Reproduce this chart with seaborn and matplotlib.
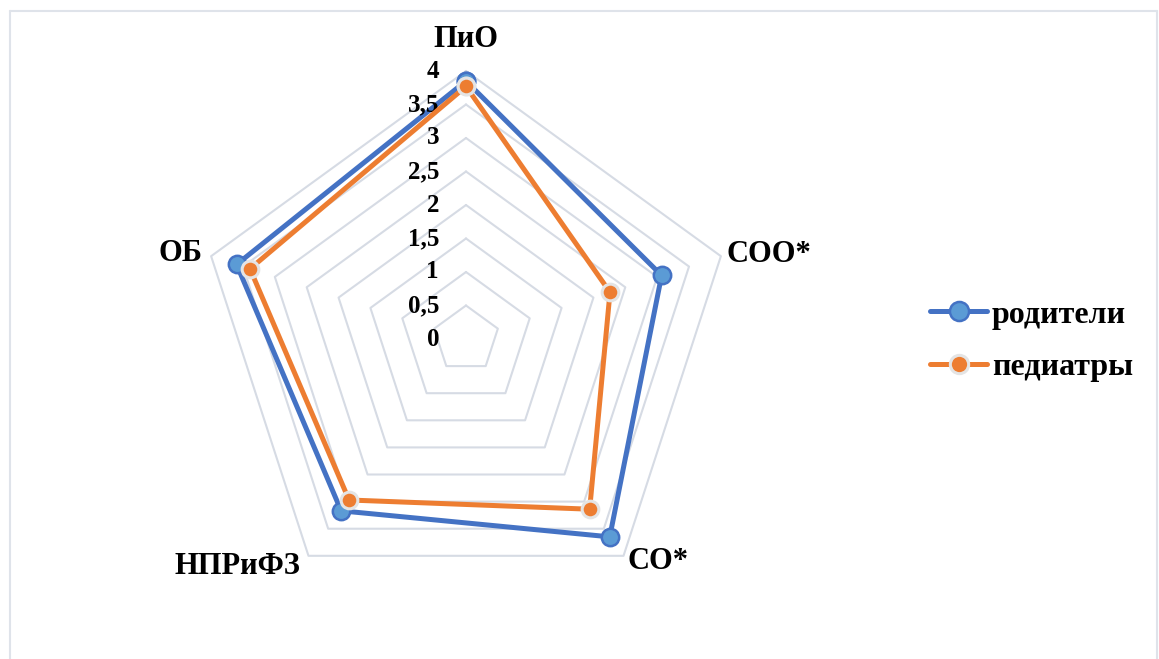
import numpy as np
import matplotlib
matplotlib.use("Agg")
import matplotlib.pyplot as plt
import matplotlib.transforms as mtransforms
from matplotlib.lines import Line2D
import seaborn as sns

categories = ["ПиО", "СОО*", "СО*", "НПРиФЗ", "ОБ"]
parents = [3.85, 3.07, 3.65, 3.17, 3.60]
pediatricians = [3.77, 2.26, 3.14, 2.97, 3.39]
series_names = ["родители", "педиатры"]
r_ticks = [0, 0.5, 1, 1.5, 2, 2.5, 3, 3.5, 4]
r_tick_labels = ["0", "0,5", "1", "1,5", "2", "2,5", "3", "3,5", "4"]

sns.set_style("white")
plt.rcParams["font.family"] = ["Liberation Serif", "DejaVu Serif"]
plt.rcParams["font.weight"] = "bold"
plt.rcParams["text.color"] = "black"

W, H = 1159, 659
fig = plt.figure(figsize=(W / 100, H / 100), dpi=100)
cx, cy, R = 466, 339, 268
ax = fig.add_axes([(cx - R) / W, (H - cy - R) / H, 2 * R / W, 2 * R / H],
                  projection="polar")
ax.set_theta_zero_location("N")
ax.set_theta_direction(-1)
ax.set_ylim(0, 4)
ax.grid(False)
ax.spines["polar"].set_visible(False)
ax.set_xticks([])
ax.set_yticks([])
ax.patch.set_alpha(0)

n = len(categories)
angles = np.linspace(0, 2 * np.pi, n, endpoint=False)
closed = np.concatenate([angles, angles[:1]])

grid_color = "#D6DBE4"
for v in r_ticks[1:]:
    ax.plot(closed, [v] * (n + 1), color=grid_color, lw=1.5, zorder=1,
            clip_on=False)

def close(vals):
    return list(vals) + [vals[0]]

ax.plot(closed, close(parents), color="#4472C4", lw=3.6, zorder=3,
        marker="o", markersize=12.5, markerfacecolor="#5B9BD5",
        markeredgecolor="#4472C4", markeredgewidth=1.8,
        label=series_names[0], clip_on=False)
ax.plot(closed, close(pediatricians), color="#ED7D31", lw=3.6, zorder=4,
        marker="o", markersize=12, markerfacecolor="#ED7D31",
        markeredgecolor="#E4E4E4", markeredgewidth=2.2,
        label=series_names[1], clip_on=False)

# radial value labels
off = mtransforms.offset_copy(ax.transData, fig=fig, x=-27, y=0, units="dots")
for v, lab in zip(r_ticks, r_tick_labels):
    ax.text(0, v, lab, transform=off, ha="right", va="center",
            fontsize=18, fontweight="bold", color="black")

# category labels
label_pos = [(4.25, "center", "bottom"), (4.09, "left", "center"),
             (4.10, "left", "center"), (4.20, "right", "center"),
             (4.13, "right", "center")]
for ang, cat, (r, ha, va) in zip(angles, categories, label_pos):
    ax.text(ang, r, cat, ha=ha, va=va, fontsize=22, fontweight="bold",
            color="black", clip_on=False)

leg = fig.legend(loc="center left", bbox_to_anchor=(901 / W, 1 - 341 / H),
                 frameon=False, fontsize=23, handlelength=1.8,
                 handletextpad=0.15, labelspacing=0.72, markerscale=1.1)
for t in leg.get_texts():
    t.set_fontweight("bold")
    t.set_color("black")

# chart border
bc = "#DFE3EA"
fig.add_artist(Line2D([9.5 / W, 9.5 / W], [0, 1 - 11 / H], color=bc, lw=1.5))
fig.add_artist(Line2D([9.5 / W, 1157 / W], [1 - 11 / H, 1 - 11 / H], color=bc, lw=1.5))
fig.add_artist(Line2D([1157 / W, 1157 / W], [0, 1 - 11 / H], color=bc, lw=1.5))

fig.savefig("out.png", dpi=100, facecolor="white")
